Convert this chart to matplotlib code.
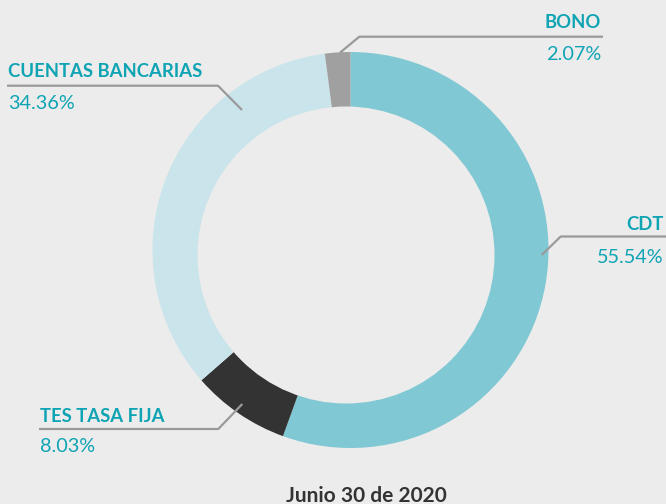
import matplotlib.pyplot as plt
from matplotlib.patches import Circle

# data
labels = ["CDT", "TES TASA FIJA", "CUENTAS BANCARIAS", "BONO"]
shares = [55.54, 8.03, 34.36, 2.07]
colors = ["#80c8d3", "#333333", "#c9e4ea", "#a0a0a0"]
title = "Junio 30 de 2020"

bg = "#ececec"
teal = "#0fa4b4"
line_c = "#9a9a9a"

fig = plt.figure(figsize=(6.66, 5.04), dpi=100, facecolor=bg)
ax = fig.add_axes([0, 0, 1, 1])
ax.set_facecolor(bg)

# pixel-like coordinates, y grows downward
ax.pie(shares, colors=colors, startangle=-90, counterclock=True,
       center=(350.5, 250), radius=198,
       wedgeprops=dict(linewidth=0))
# the hole sits a bit off-centre in the original
ax.add_patch(Circle((346, 255), 148.5, facecolor=bg, edgecolor="none", zorder=5))

ax.set_xlim(0, 666)
ax.set_ylim(504, 0)
ax.set_aspect("equal")
ax.axis("off")

plt.rcParams["font.family"] = ["Lato", "DejaVu Sans"]

# leader lines: (anchor on ring, elbow, end of horizontal)
leaders = {
    "CDT": [(541.7, 255), (560.7, 236.5), (666, 236.5)],
    "TES TASA FIJA": [(242.3, 404), (218.3, 429), (39, 429)],
    "CUENTAS BANCARIAS": [(242, 110), (218, 85.7), (7, 85.7)],
    "BONO": [(340, 52.7), (359.3, 36.7), (603, 36.7)],
}
# label placement: x, name baseline, value baseline, alignment
spots = {
    "CDT": (664, 230, 263, "right"),
    "TES TASA FIJA": (40, 421.5, 452.5, "left"),
    "CUENTAS BANCARIAS": (8, 77, 109, "left"),
    "BONO": (601, 28, 60, "right"),
}

for lab, val in zip(labels, shares):
    pts = leaders[lab]
    ax.plot([p[0] for p in pts], [p[1] for p in pts], color=line_c,
            lw=1.6, zorder=6, solid_capstyle="butt")
    x, yn, yv, ha = spots[lab]
    ax.text(x, yn, lab, ha=ha, va="baseline", color=teal,
            fontsize=13.3, fontweight="bold", zorder=7)
    ax.text(x, yv, f"{val:.2f}%", ha=ha, va="baseline", color=teal,
            fontsize=14.3, zorder=7)

ax.text(366, 501.5, title, ha="center", va="baseline", color="#333333",
        fontsize=15, fontweight="bold")

fig.savefig("out.png", dpi=100, facecolor=bg)
